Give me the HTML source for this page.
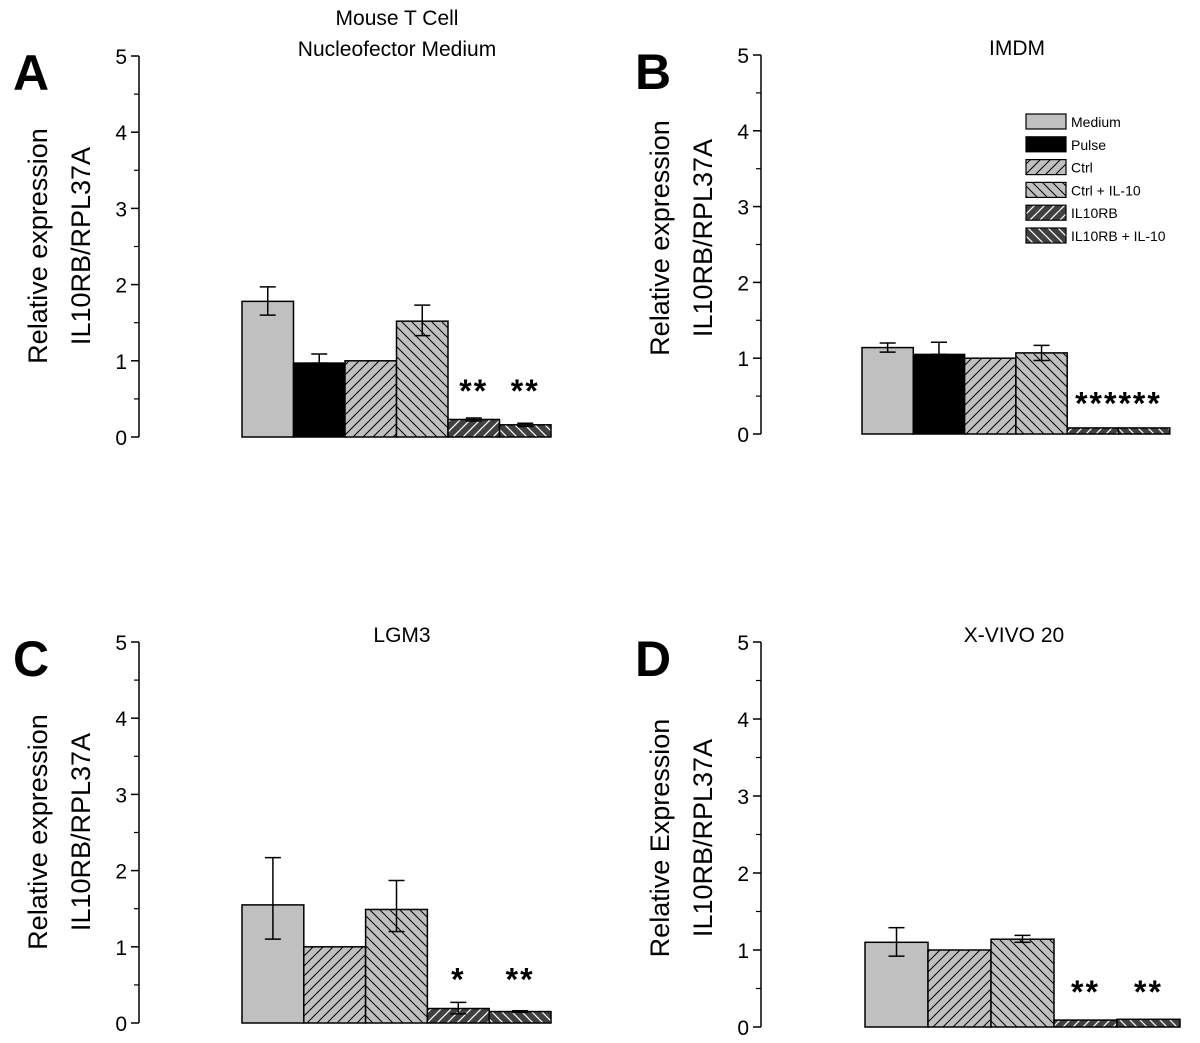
<!DOCTYPE html>
<html><head><meta charset="utf-8"><style>
html,body{margin:0;padding:0;background:#fff;}
svg{display:block;font-family:"Liberation Sans",sans-serif;}
</style></head><body>
<svg id="fig" width="1200" height="1043" viewBox="0 0 1200 1043">
<defs>
<pattern id="pUp" patternUnits="userSpaceOnUse" width="10" height="10"><rect width="10" height="10" fill="#c0c0c0"/><path d="M-2,12 L12,-2 M-2,2 L2,-2 M8,12 L12,8" stroke="#000" stroke-width="1"/></pattern>
<pattern id="pDn" patternUnits="userSpaceOnUse" width="10" height="10"><rect width="10" height="10" fill="#c0c0c0"/><path d="M-2,-2 L12,12 M-2,8 L2,12 M8,-2 L12,2" stroke="#000" stroke-width="1"/></pattern>
<pattern id="dUp" patternUnits="userSpaceOnUse" width="10" height="10"><rect width="10" height="10" fill="#404040"/><path d="M-2,12 L12,-2 M-2,2 L2,-2 M8,12 L12,8" stroke="#fff" stroke-width="1.2"/></pattern>
<pattern id="dDn" patternUnits="userSpaceOnUse" width="10" height="10"><rect width="10" height="10" fill="#404040"/><path d="M-2,-2 L12,12 M-2,8 L2,12 M8,-2 L12,2" stroke="#fff" stroke-width="1.2"/></pattern>
</defs>
</svg>
<script>
const fillsA = ['#c0c0c0','#000','url(#pUp)','url(#pDn)','url(#dUp)','url(#dDn)'];
const fillsC = ['#c0c0c0','url(#pUp)','url(#pDn)','url(#dUp)','url(#dDn)'];
const catsA = ['Medium','Pulse','Ctrl','Ctrl + IL-10','IL10RB','IL10RB + IL-10'];
const catsC = ['Medium','Ctrl','Ctrl + IL-10','IL10RB','IL10RB + IL-10'];
const valsA = [1.78,0.97,1.0,1.52,0.23,0.16];
const lowA = [1.60,0.97,1.0,1.33,0.21,0.14];
const highA = [1.97,1.09,1.0,1.73,0.25,0.18];
const starsA = ['','','','','**','**'];
const valsB = [1.14,1.05,1.0,1.07,0.08,0.08];
const lowB = [1.08,1.05,1.0,0.97,0.075,0.075];
const highB = [1.20,1.21,1.0,1.17,0.085,0.085];
const starsB = ['','','','','******',''];
const valsC = [1.55,1.0,1.49,0.19,0.15];
const lowC = [1.10,1.0,1.20,0.12,0.14];
const highC = [2.17,1.0,1.87,0.27,0.16];
const starsC = ['','','','*','**'];
const valsD = [1.10,1.0,1.14,0.09,0.10];
const lowD = [0.92,1.0,1.10,0.085,0.095];
const highD = [1.29,1.0,1.19,0.095,0.105];
const starsD = ['','','','**','**'];
const yTicks = [0,1,2,3,4,5];

const NS='http://www.w3.org/2000/svg';
const svg=document.getElementById('fig');
function el(tag,attrs,parent){const e=document.createElementNS(NS,tag);for(const k in attrs)e.setAttribute(k,attrs[k]);(parent||svg).appendChild(e);return e;}

const panels=[
 {id:'a',letter:'A',ax:139,y0:437,y5:56,bx0:242,bw:51.5,title:['Mouse T Cell','Nucleofector Medium'],tx:397,ty:[25,56],ylab:['Relative expression','IL10RB/RPL37A'],lx:[37,80],ly:246,cats:catsA,fills:fillsA,vals:valsA,low:lowA,high:highA,stars:starsA,starV:0.68,starDx:0},
 {id:'b',letter:'B',ax:761,y0:434,y5:55,bx0:862,bw:51.3,title:['IMDM'],tx:1017,ty:[55],ylab:['Relative expression','IL10RB/RPL37A'],lx:[659,702],ly:238,cats:catsA,fills:fillsA,vals:valsB,low:lowB,high:highB,stars:starsB,starV:0.48,starDx:25.6,legend:true},
 {id:'c',letter:'C',ax:139,y0:1023,y5:642,bx0:242,bw:61.8,title:['LGM3'],tx:402,ty:[642],ylab:['Relative expression','IL10RB/RPL37A'],lx:[37,80],ly:832,cats:catsC,fills:fillsC,vals:valsC,low:lowC,high:highC,stars:starsC,starV:0.65,starDx:0},
 {id:'d',letter:'D',ax:761,y0:1027,y5:642,bx0:865,bw:63,title:['X-VIVO 20'],tx:1014,ty:[642],ylab:['Relative Expression','IL10RB/RPL37A'],lx:[659,702],ly:838,cats:catsC,fills:fillsC,vals:valsD,low:lowD,high:highD,stars:starsD,starV:0.53,starDx:0}
];

panels.forEach(p=>{
 const g=el('g',{});
 
 
 const y=v=>p.y0-(p.y0-p.y5)*v/5;
 const L=el('text',{x:p.ax-126,y:p.y5+34,'font-size':50,'font-weight':'bold'},g);
 L.textContent=p.letter;
 
 
 p.title.forEach((t,i)=>{const T=el('text',{x:p.tx,y:p.ty[i],'font-size':21,'text-anchor':'middle'},g);T.textContent=t;
  
  });
 p.ylab.forEach((t,i)=>{const T=el('text',{x:0,y:0,'font-size':27,'text-anchor':'middle',transform:`translate(${p.lx[i]+10},${p.ly}) rotate(-90)`},g);T.textContent=t;
  
  });
 const A=el('line',{x1:p.ax,y1:p.y5,x2:p.ax,y2:p.y0,stroke:'#000','stroke-width':1.5},g);
 
 
 yTicks.forEach(t=>{
  el('line',{x1:p.ax-8,y1:y(t),x2:p.ax,y2:y(t),stroke:'#000','stroke-width':1.5},g);
  if(t<5) el('line',{x1:p.ax-5,y1:y(t+0.5),x2:p.ax,y2:y(t+0.5),stroke:'#000','stroke-width':1.2},g);
  const T=el('text',{x:p.ax-12,y:y(t)+8,'font-size':21,'text-anchor':'end'},g);T.textContent=t;
  
  
 });
 p.vals.forEach((v,i)=>{
  const x=p.bx0+i*p.bw;
  const R=el('rect',{x:x,y:y(v),width:p.bw,height:p.y0-y(v),fill:p.fills[i],stroke:'#000','stroke-width':1.5},g);
  
  
  const cx=x+p.bw/2;
  if(p.high[i]-p.low[i]>0.015){
   el('line',{x1:cx,y1:y(p.high[i]),x2:cx,y2:y(p.low[i]),stroke:'#000','stroke-width':1.5},g);
   el('line',{x1:cx-8,y1:y(p.high[i]),x2:cx+8,y2:y(p.high[i]),stroke:'#000','stroke-width':1.5},g);
   el('line',{x1:cx-8,y1:y(p.low[i]),x2:cx+8,y2:y(p.low[i]),stroke:'#000','stroke-width':1.5},g);
  }
  if(p.stars[i]){
   const S=el('text',{x:cx+p.starDx,y:y(p.starV)+17,'font-size':32,'font-weight':'bold','text-anchor':'middle','letter-spacing':'2'},g);
   S.textContent=p.stars[i];
   
   
  }
 });
 if(p.legend){
  const lg=el('g',{},g);
  
  
  p.cats.forEach((c,i)=>{
   const yy=114+i*22.8;
   el('rect',{x:1026,y:yy,width:40,height:15,fill:p.fills[i],stroke:'#000','stroke-width':1.2},lg);
   const T=el('text',{x:1071,y:yy+13,'font-size':14},lg);T.textContent=c;
   
   
  });
 }
});
</script>
</body></html>
